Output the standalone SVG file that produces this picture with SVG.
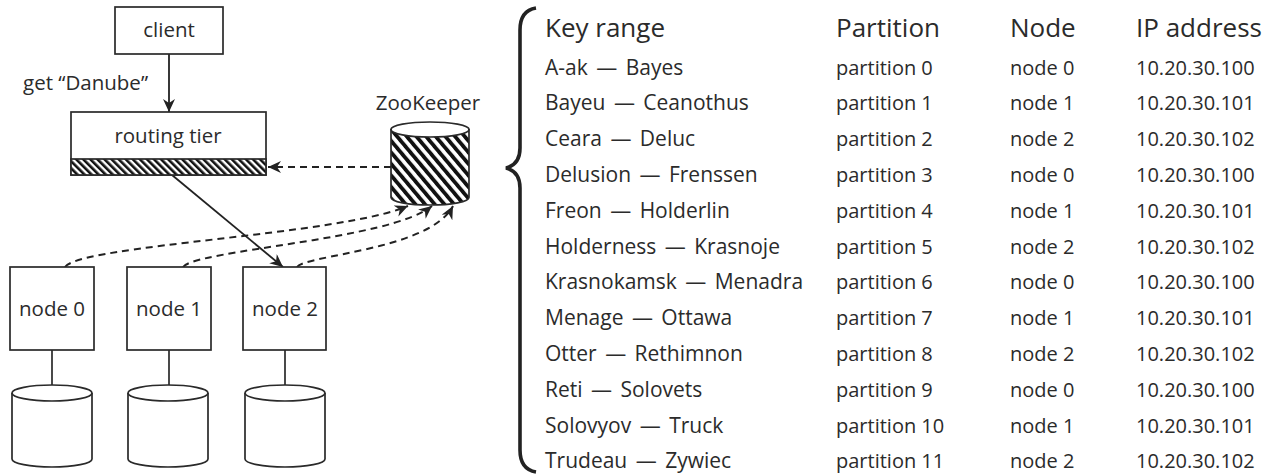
<svg xmlns="http://www.w3.org/2000/svg" width="1270" height="475" viewBox="0 0 1270 475">
<style>
.box{fill:#fff;stroke:#2a2a2a;stroke-width:1.7}
.lbl{font-family:"Open Sans","Noto Sans",sans-serif;font-size:20.5px;fill:#2b2b2b}
.mid{text-anchor:middle}
.hdr{font-family:"Open Sans","Noto Sans",sans-serif;font-size:26px;fill:#2b2b2b}
.row{font-family:"Open Sans","Noto Sans",sans-serif;font-size:20px;fill:#2b2b2b}
.key{font-size:21px;word-spacing:3px}
.solid{fill:none;stroke:#222;stroke-width:1.8}
.dash{fill:none;stroke:#222;stroke-width:2;stroke-dasharray:7 5}
.link{fill:none;stroke:#2a2a2a;stroke-width:1.7}
</style>
<defs>
<marker id="ah" markerUnits="userSpaceOnUse" markerWidth="14" markerHeight="12" refX="13" refY="6" orient="auto">
<path d="M0,0 L13,6 L0,12 L4,6 Z" fill="#222"/>
</marker>
<pattern id="hatchA" patternUnits="userSpaceOnUse" width="5" height="8" patternTransform="rotate(-45)">
<rect x="0" y="0" width="5" height="8" fill="#fff"/>
<rect x="0" y="0" width="2.6" height="8" fill="#111"/>
</pattern>
<pattern id="hatchB" patternUnits="userSpaceOnUse" width="7.4" height="10" patternTransform="rotate(-40)">
<rect x="0" y="0" width="7.4" height="10" fill="#fff"/>
<rect x="0" y="0" width="3.8" height="10" fill="#111"/>
</pattern>
</defs>

<g id="connectors">
<path class="solid" d="M169,54 L169,112" marker-end="url(#ah)"/>
<path class="solid" d="M172,175 L283,267" marker-end="url(#ah)"/>
<path class="dash" d="M391,167 L268,167" marker-end="url(#ah)"/>
<path class="dash" d="M65,267 C80,245 340,235 408,206" marker-end="url(#ah)"/>
<path class="dash" d="M183,267 C195,250 390,240 432,206" marker-end="url(#ah)"/>
<path class="dash" d="M297,267 C305,255 430,250 453,206" marker-end="url(#ah)"/>
<path class="link" d="M52,350 L52,385"/>
<path class="link" d="M169,350 L169,385"/>
<path class="link" d="M285,350 L285,385"/>
</g>

<g id="client">
<rect class="box" x="115" y="7" width="108" height="47"/>
<text class="lbl mid" x="169" y="37">client</text>
</g>
<text class="lbl" x="23" y="90">get “Danube”</text>

<g id="routing-tier">
<rect class="box" x="71" y="112" width="195" height="63"/>
<rect x="71" y="159" width="195" height="16" fill="url(#hatchA)" stroke="#2a2a2a" stroke-width="1.7"/>
<text class="lbl mid" x="168" y="143">routing tier</text>
</g>

<g id="zookeeper">
<text class="lbl mid" x="428" y="110">ZooKeeper</text>
<path d="M391,129.5 L391,197.5 A39,7.5 0 0 0 469,197.5 L469,129.5 Z" fill="url(#hatchB)" stroke="#2a2a2a" stroke-width="1.7"/>
<ellipse cx="430" cy="129.5" rx="39" ry="7.5" fill="#fff" stroke="#2a2a2a" stroke-width="1.7"/>
</g>

<g id="node0">
<rect class="box" x="10" y="267" width="84" height="83"/>
<text class="lbl mid" x="52" y="316">node 0</text>
<path class="box" d="M12,393 L12,459 A40,8 0 0 0 92,459 L92,393"/>
<ellipse class="box" cx="52" cy="393" rx="40" ry="8"/>
</g>
<g id="node1">
<rect class="box" x="127" y="267" width="84" height="83"/>
<text class="lbl mid" x="169" y="316">node 1</text>
<path class="box" d="M128,393 L128,459 A40,8 0 0 0 208,459 L208,393"/>
<ellipse class="box" cx="168" cy="393" rx="40" ry="8"/>
</g>
<g id="node2">
<rect class="box" x="243" y="267" width="83" height="83"/>
<text class="lbl mid" x="285" y="316">node 2</text>
<path class="box" d="M245,393 L245,459 A40,8 0 0 0 325,459 L325,393"/>
<ellipse class="box" cx="285" cy="393" rx="40" ry="8"/>
</g>

<g id="table">
<path d="M536,8 C524,10 520,18 520,30 L520,148 C520,160 514,166 506,168 C514,170 520,176 520,188 L520,450 C520,462 524,470 536,472" fill="none" stroke="#222" stroke-width="3.6"/>
<text class="hdr" x="545" y="37">Key range</text>
<text class="hdr" x="836" y="37">Partition</text>
<text class="hdr" x="1010" y="37">Node</text>
<text class="hdr" x="1136" y="37">IP address</text>

<text class="row key" x="545" y="74.5">A-ak — Bayes</text>
<text class="row key" x="545" y="110.3">Bayeu — Ceanothus</text>
<text class="row key" x="545" y="146.1">Ceara — Deluc</text>
<text class="row key" x="545" y="181.9">Delusion — Frenssen</text>
<text class="row key" x="545" y="217.7">Freon — Holderlin</text>
<text class="row key" x="545" y="253.5">Holderness — Krasnoje</text>
<text class="row key" x="545" y="289.3">Krasnokamsk — Menadra</text>
<text class="row key" x="545" y="325.1">Menage — Ottawa</text>
<text class="row key" x="545" y="360.9">Otter — Rethimnon</text>
<text class="row key" x="545" y="396.7">Reti — Solovets</text>
<text class="row key" x="545" y="432.5">Solovyov — Truck</text>
<text class="row key" x="545" y="468.3">Trudeau — Zywiec</text>

<text class="row" x="836" y="74.5">partition 0</text>
<text class="row" x="836" y="110.3">partition 1</text>
<text class="row" x="836" y="146.1">partition 2</text>
<text class="row" x="836" y="181.9">partition 3</text>
<text class="row" x="836" y="217.7">partition 4</text>
<text class="row" x="836" y="253.5">partition 5</text>
<text class="row" x="836" y="289.3">partition 6</text>
<text class="row" x="836" y="325.1">partition 7</text>
<text class="row" x="836" y="360.9">partition 8</text>
<text class="row" x="836" y="396.7">partition 9</text>
<text class="row" x="836" y="432.5">partition 10</text>
<text class="row" x="836" y="468.3">partition 11</text>

<text class="row" x="1010" y="74.5">node 0</text>
<text class="row" x="1010" y="110.3">node 1</text>
<text class="row" x="1010" y="146.1">node 2</text>
<text class="row" x="1010" y="181.9">node 0</text>
<text class="row" x="1010" y="217.7">node 1</text>
<text class="row" x="1010" y="253.5">node 2</text>
<text class="row" x="1010" y="289.3">node 0</text>
<text class="row" x="1010" y="325.1">node 1</text>
<text class="row" x="1010" y="360.9">node 2</text>
<text class="row" x="1010" y="396.7">node 0</text>
<text class="row" x="1010" y="432.5">node 1</text>
<text class="row" x="1010" y="468.3">node 2</text>

<text class="row" x="1136" y="74.5">10.20.30.100</text>
<text class="row" x="1136" y="110.3">10.20.30.101</text>
<text class="row" x="1136" y="146.1">10.20.30.102</text>
<text class="row" x="1136" y="181.9">10.20.30.100</text>
<text class="row" x="1136" y="217.7">10.20.30.101</text>
<text class="row" x="1136" y="253.5">10.20.30.102</text>
<text class="row" x="1136" y="289.3">10.20.30.100</text>
<text class="row" x="1136" y="325.1">10.20.30.101</text>
<text class="row" x="1136" y="360.9">10.20.30.102</text>
<text class="row" x="1136" y="396.7">10.20.30.100</text>
<text class="row" x="1136" y="432.5">10.20.30.101</text>
<text class="row" x="1136" y="468.3">10.20.30.102</text>
</g>
</svg>
